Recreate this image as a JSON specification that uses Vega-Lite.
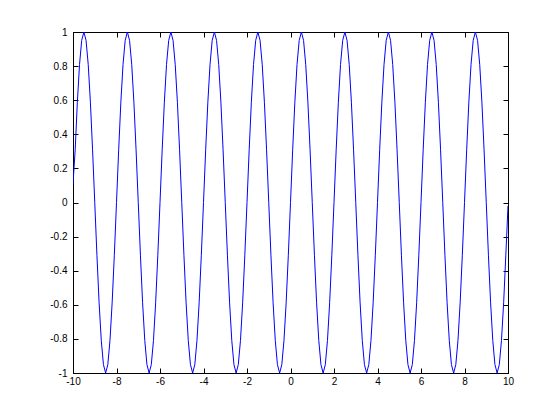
{
"$schema":"https://vega.github.io/schema/vega-lite/v6.json",
"width":435,"height":341,
"autosize":{"type":"none"},
"padding":{"left":73,"top":32,"right":52,"bottom":47},
"background":"white",
"config":{"view":{"stroke":"black","strokeWidth":1},"axis":{"grid":false,"domainColor":"black","tickColor":"black","labelColor":"black","labelFont":"Liberation Sans","labelFontSize":10,"tickSize":-5,"title":null,"labelFlush":false,"labelOverlap":false,"labelBound":false}},
"data":{"values":[
{"x":-10,"y":0.11},{"x":-9.9,"y":0.309},{"x":-9.8,"y":0.588},{"x":-9.7,"y":0.809},{"x":-9.6,"y":0.951},{"x":-9.5,"y":1},{"x":-9.4,"y":0.951},{"x":-9.3,"y":0.809},{"x":-9.2,"y":0.588},{"x":-9.1,"y":0.309},
{"x":-9,"y":0},{"x":-8.9,"y":-0.309},{"x":-8.8,"y":-0.588},{"x":-8.7,"y":-0.809},{"x":-8.6,"y":-0.951},{"x":-8.5,"y":-1},{"x":-8.4,"y":-0.951},{"x":-8.3,"y":-0.809},{"x":-8.2,"y":-0.588},{"x":-8.1,"y":-0.309},
{"x":-8,"y":0},{"x":-7.9,"y":0.309},{"x":-7.8,"y":0.588},{"x":-7.7,"y":0.809},{"x":-7.6,"y":0.951},{"x":-7.5,"y":1},{"x":-7.4,"y":0.951},{"x":-7.3,"y":0.809},{"x":-7.2,"y":0.588},{"x":-7.1,"y":0.309},
{"x":-7,"y":0},{"x":-6.9,"y":-0.309},{"x":-6.8,"y":-0.588},{"x":-6.7,"y":-0.809},{"x":-6.6,"y":-0.951},{"x":-6.5,"y":-1},{"x":-6.4,"y":-0.951},{"x":-6.3,"y":-0.809},{"x":-6.2,"y":-0.588},{"x":-6.1,"y":-0.309},
{"x":-6,"y":0},{"x":-5.9,"y":0.309},{"x":-5.8,"y":0.588},{"x":-5.7,"y":0.809},{"x":-5.6,"y":0.951},{"x":-5.5,"y":1},{"x":-5.4,"y":0.951},{"x":-5.3,"y":0.809},{"x":-5.2,"y":0.588},{"x":-5.1,"y":0.309},
{"x":-5,"y":0},{"x":-4.9,"y":-0.309},{"x":-4.8,"y":-0.588},{"x":-4.7,"y":-0.809},{"x":-4.6,"y":-0.951},{"x":-4.5,"y":-1},{"x":-4.4,"y":-0.951},{"x":-4.3,"y":-0.809},{"x":-4.2,"y":-0.588},{"x":-4.1,"y":-0.309},
{"x":-4,"y":0},{"x":-3.9,"y":0.309},{"x":-3.8,"y":0.588},{"x":-3.7,"y":0.809},{"x":-3.6,"y":0.951},{"x":-3.5,"y":1},{"x":-3.4,"y":0.951},{"x":-3.3,"y":0.809},{"x":-3.2,"y":0.588},{"x":-3.1,"y":0.309},
{"x":-3,"y":0},{"x":-2.9,"y":-0.309},{"x":-2.8,"y":-0.588},{"x":-2.7,"y":-0.809},{"x":-2.6,"y":-0.951},{"x":-2.5,"y":-1},{"x":-2.4,"y":-0.951},{"x":-2.3,"y":-0.809},{"x":-2.2,"y":-0.588},{"x":-2.1,"y":-0.309},
{"x":-2,"y":0},{"x":-1.9,"y":0.309},{"x":-1.8,"y":0.588},{"x":-1.7,"y":0.809},{"x":-1.6,"y":0.951},{"x":-1.5,"y":1},{"x":-1.4,"y":0.951},{"x":-1.3,"y":0.809},{"x":-1.2,"y":0.588},{"x":-1.1,"y":0.309},
{"x":-1,"y":0},{"x":-0.9,"y":-0.309},{"x":-0.8,"y":-0.588},{"x":-0.7,"y":-0.809},{"x":-0.6,"y":-0.951},{"x":-0.5,"y":-1},{"x":-0.4,"y":-0.951},{"x":-0.3,"y":-0.809},{"x":-0.2,"y":-0.588},{"x":-0.1,"y":-0.309},
{"x":0,"y":0},{"x":0.1,"y":0.309},{"x":0.2,"y":0.588},{"x":0.3,"y":0.809},{"x":0.4,"y":0.951},{"x":0.5,"y":1},{"x":0.6,"y":0.951},{"x":0.7,"y":0.809},{"x":0.8,"y":0.588},{"x":0.9,"y":0.309},
{"x":1,"y":0},{"x":1.1,"y":-0.309},{"x":1.2,"y":-0.588},{"x":1.3,"y":-0.809},{"x":1.4,"y":-0.951},{"x":1.5,"y":-1},{"x":1.6,"y":-0.951},{"x":1.7,"y":-0.809},{"x":1.8,"y":-0.588},{"x":1.9,"y":-0.309},
{"x":2,"y":0},{"x":2.1,"y":0.309},{"x":2.2,"y":0.588},{"x":2.3,"y":0.809},{"x":2.4,"y":0.951},{"x":2.5,"y":1},{"x":2.6,"y":0.951},{"x":2.7,"y":0.809},{"x":2.8,"y":0.588},{"x":2.9,"y":0.309},
{"x":3,"y":0},{"x":3.1,"y":-0.309},{"x":3.2,"y":-0.588},{"x":3.3,"y":-0.809},{"x":3.4,"y":-0.951},{"x":3.5,"y":-1},{"x":3.6,"y":-0.951},{"x":3.7,"y":-0.809},{"x":3.8,"y":-0.588},{"x":3.9,"y":-0.309},
{"x":4,"y":0},{"x":4.1,"y":0.309},{"x":4.2,"y":0.588},{"x":4.3,"y":0.809},{"x":4.4,"y":0.951},{"x":4.5,"y":1},{"x":4.6,"y":0.951},{"x":4.7,"y":0.809},{"x":4.8,"y":0.588},{"x":4.9,"y":0.309},
{"x":5,"y":0},{"x":5.1,"y":-0.309},{"x":5.2,"y":-0.588},{"x":5.3,"y":-0.809},{"x":5.4,"y":-0.951},{"x":5.5,"y":-1},{"x":5.6,"y":-0.951},{"x":5.7,"y":-0.809},{"x":5.8,"y":-0.588},{"x":5.9,"y":-0.309},
{"x":6,"y":0},{"x":6.1,"y":0.309},{"x":6.2,"y":0.588},{"x":6.3,"y":0.809},{"x":6.4,"y":0.951},{"x":6.5,"y":1},{"x":6.6,"y":0.951},{"x":6.7,"y":0.809},{"x":6.8,"y":0.588},{"x":6.9,"y":0.309},
{"x":7,"y":0},{"x":7.1,"y":-0.309},{"x":7.2,"y":-0.588},{"x":7.3,"y":-0.809},{"x":7.4,"y":-0.951},{"x":7.5,"y":-1},{"x":7.6,"y":-0.951},{"x":7.7,"y":-0.809},{"x":7.8,"y":-0.588},{"x":7.9,"y":-0.309},
{"x":8,"y":0},{"x":8.1,"y":0.309},{"x":8.2,"y":0.588},{"x":8.3,"y":0.809},{"x":8.4,"y":0.951},{"x":8.5,"y":1},{"x":8.6,"y":0.951},{"x":8.7,"y":0.809},{"x":8.8,"y":0.588},{"x":8.9,"y":0.309},
{"x":9,"y":0},{"x":9.1,"y":-0.309},{"x":9.2,"y":-0.588},{"x":9.3,"y":-0.809},{"x":9.4,"y":-0.951},{"x":9.5,"y":-1},{"x":9.6,"y":-0.951},{"x":9.7,"y":-0.809},{"x":9.8,"y":-0.588},{"x":9.9,"y":-0.309},
{"x":10,"y":-0.02}
]},
"layer":[
{"mark":{"type":"line","color":"#0000ff","strokeWidth":1,"clip":true},
 "encoding":{
  "x":{"field":"x","type":"quantitative","scale":{"domain":[-10,10],"nice":false,"zero":false},"axis":{"orient":"bottom","values":[-10,-8,-6,-4,-2,0,2,4,6,8,10],"labelExpr":"datum.value + ''","labelPadding":8,"title":null}},
  "y":{"field":"y","type":"quantitative","scale":{"domain":[-1,1],"nice":false,"zero":false},"axis":{"orient":"left","values":[-1,-0.8,-0.6,-0.4,-0.2,0,0.2,0.4,0.6,0.8,1],"labelExpr":"datum.value + ''","labelPadding":11,"title":null}}
 }},
{"mark":{"type":"line","opacity":0},
 "encoding":{
  "x":{"field":"x","type":"quantitative","axis":{"orient":"top","values":[-10,-8,-6,-4,-2,0,2,4,6,8,10],"labels":false,"title":null}},
  "y":{"field":"y","type":"quantitative","axis":{"orient":"right","values":[-1,-0.8,-0.6,-0.4,-0.2,0,0.2,0.4,0.6,0.8,1],"labels":false,"title":null}}
 }}
],
"resolve":{"axis":{"x":"independent","y":"independent"}}
}
